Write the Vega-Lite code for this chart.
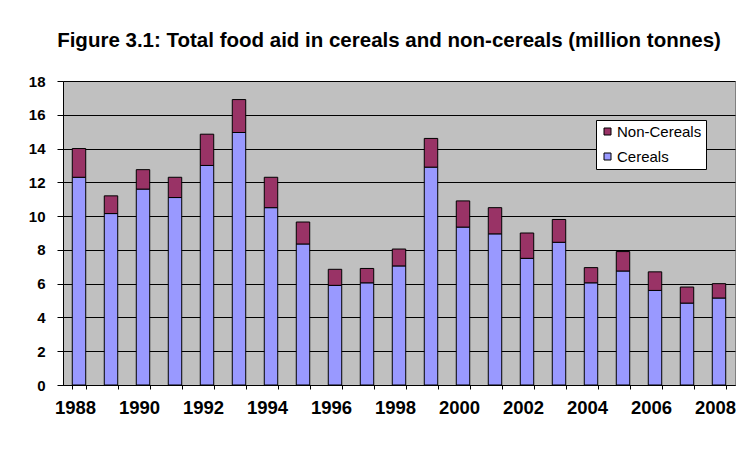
{
  "$schema": "https://vega.github.io/schema/vega-lite/v6.json",
  "width": 672,
  "height": 304,
  "autosize": {"type": "none"},
  "padding": {"left": 63, "top": 81, "right": 4, "bottom": 76},
  "background": "white",
  "title": {
    "text": "Figure 3.1: Total food aid in cereals and non-cereals (million tonnes)",
    "font": "Liberation Sans",
    "fontSize": 20.5,
    "fontWeight": "bold",
    "color": "black",
    "anchor": "middle",
    "frame": "group",
    "dx": -10,
    "baseline": "alphabetic",
    "offset": 7
  },
  "data": {
    "values": [
      {"year": 1988, "type": "Cereals", "value": 12.3}, {"year": 1988, "type": "Non-Cereals", "value": 1.7},
      {"year": 1989, "type": "Cereals", "value": 10.15}, {"year": 1989, "type": "Non-Cereals", "value": 1.05},
      {"year": 1990, "type": "Cereals", "value": 11.6}, {"year": 1990, "type": "Non-Cereals", "value": 1.15},
      {"year": 1991, "type": "Cereals", "value": 11.1}, {"year": 1991, "type": "Non-Cereals", "value": 1.2},
      {"year": 1992, "type": "Cereals", "value": 13.0}, {"year": 1992, "type": "Non-Cereals", "value": 1.85},
      {"year": 1993, "type": "Cereals", "value": 14.95}, {"year": 1993, "type": "Non-Cereals", "value": 1.95},
      {"year": 1994, "type": "Cereals", "value": 10.5}, {"year": 1994, "type": "Non-Cereals", "value": 1.8},
      {"year": 1995, "type": "Cereals", "value": 8.35}, {"year": 1995, "type": "Non-Cereals", "value": 1.3},
      {"year": 1996, "type": "Cereals", "value": 5.9}, {"year": 1996, "type": "Non-Cereals", "value": 0.95},
      {"year": 1997, "type": "Cereals", "value": 6.05}, {"year": 1997, "type": "Non-Cereals", "value": 0.85},
      {"year": 1998, "type": "Cereals", "value": 7.05}, {"year": 1998, "type": "Non-Cereals", "value": 1.0},
      {"year": 1999, "type": "Cereals", "value": 12.9}, {"year": 1999, "type": "Non-Cereals", "value": 1.7},
      {"year": 2000, "type": "Cereals", "value": 9.35}, {"year": 2000, "type": "Non-Cereals", "value": 1.55},
      {"year": 2001, "type": "Cereals", "value": 8.95}, {"year": 2001, "type": "Non-Cereals", "value": 1.55},
      {"year": 2002, "type": "Cereals", "value": 7.5}, {"year": 2002, "type": "Non-Cereals", "value": 1.5},
      {"year": 2003, "type": "Cereals", "value": 8.45}, {"year": 2003, "type": "Non-Cereals", "value": 1.35},
      {"year": 2004, "type": "Cereals", "value": 6.05}, {"year": 2004, "type": "Non-Cereals", "value": 0.9},
      {"year": 2005, "type": "Cereals", "value": 6.75}, {"year": 2005, "type": "Non-Cereals", "value": 1.15},
      {"year": 2006, "type": "Cereals", "value": 5.6}, {"year": 2006, "type": "Non-Cereals", "value": 1.1},
      {"year": 2007, "type": "Cereals", "value": 4.85}, {"year": 2007, "type": "Non-Cereals", "value": 0.95},
      {"year": 2008, "type": "Cereals", "value": 5.15}, {"year": 2008, "type": "Non-Cereals", "value": 0.85}
    ]
  },
  "mark": {"type": "bar", "stroke": "black", "strokeWidth": 1},
  "encoding": {
    "x": {
      "field": "year",
      "type": "ordinal",
      "scale": {"paddingInner": 0.58, "paddingOuter": 0.29},
      "axis": {
        "title": null,
        "labelAngle": 0,
        "labelExpr": "datum.value % 2 == 0 ? datum.label : ''",
        "labelOverlap": false,
        "tickBand": "extent",
        "domainColor": "black",
        "tickColor": "black",
        "tickSize": 4,
        "labelFont": "Liberation Sans",
        "labelFontSize": 18.5,
        "labelFontWeight": "bold",
        "labelColor": "black",
        "labelOffset": -4,
        "labelPadding": 9
      }
    },
    "y": {
      "field": "value",
      "type": "quantitative",
      "stack": "zero",
      "scale": {"domain": [0, 18], "nice": false},
      "axis": {
        "title": null,
        "values": [0, 2, 4, 6, 8, 10, 12, 14, 16, 18],
        "grid": true,
        "gridColor": "black",
        "gridOpacity": 1,
        "gridWidth": 1,
        "domainColor": "black",
        "tickColor": "black",
        "tickSize": 6,
        "labelPadding": 12,
        "labelFont": "Liberation Sans",
        "labelFontSize": 15,
        "labelFontWeight": "bold",
        "labelColor": "black"
      }
    },
    "color": {
      "field": "type",
      "type": "nominal",
      "scale": {"domain": ["Non-Cereals", "Cereals"], "range": ["#993366", "#9999FF"]},
      "legend": {
        "title": null,
        "orient": "none",
        "legendX": 533,
        "legendY": 39,
        "fillColor": "white",
        "strokeColor": "black",
        "padding": 4,
        "symbolType": "square",
        "symbolSize": 49,
        "symbolStrokeColor": "black",
        "symbolStrokeWidth": 1,
        "symbolOpacity": 1,
        "labelFont": "Liberation Sans",
        "labelFontSize": 15,
        "labelColor": "black",
        "labelOffset": 2,
        "rowPadding": 9
      }
    },
    "order": {"field": "type", "sort": "ascending"}
  },
  "config": {
    "view": {"fill": "#C0C0C0", "stroke": "#808080"}
  }
}
